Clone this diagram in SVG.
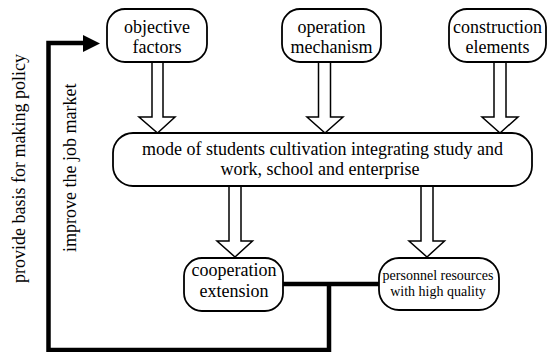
<svg xmlns="http://www.w3.org/2000/svg" width="550" height="352" viewBox="0 0 550 352">
<style>
  .box { fill: #fff; stroke: #000; stroke-width: 1.8; }
  .arr { fill: #fff; stroke: #000; stroke-width: 1.5; stroke-linejoin: miter; }
  text { font-family: "Liberation Serif", "Times New Roman", serif; fill: #000; }
  .t { font-size: 18px; text-anchor: middle; }
  .ts { font-size: 14px; text-anchor: middle; }
  .tl { font-size: 18px; }
  .thick { fill: none; stroke: #000; stroke-width: 4.5; }
</style>
<rect width="550" height="352" fill="#fff"/>
<g id="connectors">
  <polygon class="arr" points="152,62 163,62 163,117 175,117 157.5,133 139,117 152,117"/>
  <polygon class="arr" points="318.5,62 330.5,62 330.5,117 343,117 325,133 307,117 318.5,117"/>
  <polygon class="arr" points="494,62 506,62 506,117 518,117 500,133 482,117 494,117"/>
  <polygon class="arr" points="229,186 241,186 241,241 252.5,241 235,257 217,241 229,241"/>
  <polygon class="arr" points="421,186 433,186 433,241 444.5,241 427,257 409,241 421,241"/>
  <path class="thick" d="M283,284 L379,284 M329,284 L329,350 L48.5,350 L48.5,43 L86,43"/>
  <polygon points="83,35 100,43.5 83,52" fill="#000"/>
  <text class="tl" transform="translate(25,283) rotate(-90)">provide basis for making policy</text>
  <text class="tl" transform="translate(76,252) rotate(-90)">improve the job market</text>
</g>
<g id="objective">
  <rect class="box" x="107" y="9" width="100" height="53" rx="18" ry="18"/>
  <text class="t" x="157" y="33">objective</text>
  <text class="t" x="157" y="53">factors</text>
</g>
<g id="operation">
  <rect class="box" x="282" y="9" width="99" height="53" rx="18" ry="18"/>
  <text class="t" x="331.5" y="33">operation</text>
  <text class="t" x="331.5" y="53">mechanism</text>
</g>
<g id="construction">
  <rect class="box" x="449" y="9" width="97" height="53" rx="18" ry="18"/>
  <text class="t" x="497.5" y="33">construction</text>
  <text class="t" x="497.5" y="53">elements</text>
</g>
<g id="mode">
  <rect class="box" x="113" y="133" width="419" height="53" rx="20" ry="20"/>
  <text class="t" x="322.5" y="155">mode of students cultivation integrating study and</text>
  <text class="t" x="320" y="175">work, school and enterprise</text>
</g>
<g id="cooperation">
  <rect class="box" x="184" y="258" width="99" height="53" rx="18" ry="18"/>
  <text class="t" x="234" y="276">cooperation</text>
  <text class="t" x="234" y="297">extension</text>
</g>
<g id="personnel">
  <rect class="box" x="379" y="258" width="120" height="52" rx="20" ry="20"/>
  <text class="ts" x="438" y="280">personnel resources</text>
  <text class="ts" x="438" y="296">with high quality</text>
</g>
</svg>
